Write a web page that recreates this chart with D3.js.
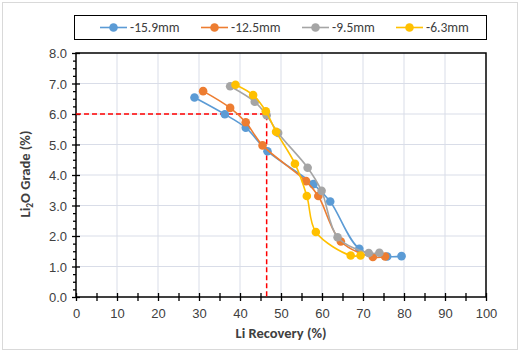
<!DOCTYPE html>
<html>
<head>
<meta charset="utf-8">
<script src="https://cdn.jsdelivr.net/npm/d3@7"></script>
<style>
  body { margin: 0; background: #fff; }
  svg { font-family: Carlito, "Liberation Sans", Arial, sans-serif; }
</style>
</head>
<body>
<svg width="521" height="353"></svg>
<script>
// series: [recovery %, grade %]
const seriesNames = ["-15.9mm", "-12.5mm", "-9.5mm", "-6.3mm"];
const seriesColors = ["#5B9BD5", "#ED7D31", "#A5A5A5", "#FFC000"];

const s159 = [[28.9, 6.54], [36.3, 5.99], [41.4, 5.55], [46.7, 4.78], [57.9, 3.70],
              [62.0, 3.13], [69.1, 1.58], [75.9, 1.33], [79.4, 1.34]];
const s125 = [[31.0, 6.75], [37.6, 6.20], [41.4, 5.73], [45.5, 4.97], [56.1, 3.80],
              [59.1, 3.31], [64.6, 1.82], [72.4, 1.31], [75.4, 1.33]];
const s95  = [[37.6, 6.91], [43.6, 6.40], [46.5, 5.96], [49.3, 5.38], [56.5, 4.24],
              [59.9, 3.48], [63.8, 1.96], [71.4, 1.44], [74.0, 1.45]];
const s63  = [[38.9, 6.96], [43.2, 6.62], [46.3, 6.09], [48.8, 5.42], [53.4, 4.37],
              [56.3, 3.31], [58.5, 2.13], [67.0, 1.36], [69.4, 1.36]];
const allSeries = [s159, s125, s95, s63];

const targetGrade = 6.0;
const targetRecovery = 46.5;

const xTicks = [0, 10, 20, 30, 40, 50, 60, 70, 80, 90, 100];
const yTicks = [0, 1, 2, 3, 4, 5, 6, 7, 8];

const svg = d3.select("svg");

// chart frame
svg.append("rect")
    .attr("x", 2.5).attr("y", 2.5).attr("width", 515).attr("height", 347)
    .attr("fill", "#fff").attr("stroke", "#d9d9d9");

const x = d3.scaleLinear().domain([0, 100]).range([76, 486]);
const y = d3.scaleLinear().domain([0, 8]).range([297, 53]);

// gridlines
svg.append("g").selectAll("line").data(xTicks.slice(1, -1)).enter().append("line")
    .attr("x1", d => x(d)).attr("x2", d => x(d))
    .attr("y1", y(0)).attr("y2", y(8))
    .attr("stroke", "#d9dde8").attr("stroke-width", 1);
svg.append("g").selectAll("line").data(yTicks.slice(1, -1)).enter().append("line")
    .attr("x1", x(0)).attr("x2", x(100))
    .attr("y1", d => y(d)).attr("y2", d => y(d))
    .attr("stroke", "#d9dde8").attr("stroke-width", 1);

// plot border
svg.append("rect")
    .attr("x", x(0)).attr("y", y(8))
    .attr("width", x(100) - x(0)).attr("height", y(0) - y(8))
    .attr("fill", "none").attr("stroke", "#000").attr("stroke-width", 1.5);

// axes (cross ticks like Excel)
const xAxis = svg.append("g").attr("transform", `translate(0,${y(0)})`);
xAxis.call(d3.axisBottom(x).tickValues(d3.range(0, 101, 5)).tickSize(0).tickFormat(""))
    .call(g => g.select(".domain").remove());
xAxis.selectAll(".tick line")
    .attr("y1", -4).attr("y2", 4).attr("stroke", "#000").attr("stroke-width", 1.3);
xAxis.selectAll(".tick").filter(d => d % 10 === 0).append("text")
    .attr("y", 21).attr("fill", "#404040").attr("font-size", 13)
    .attr("text-anchor", "middle").text(d => d);

const yAxis = svg.append("g").attr("transform", `translate(${x(0)},0)`);
yAxis.call(d3.axisLeft(y).tickValues(d3.range(0, 8.01, 0.25)).tickSize(0).tickFormat(""))
    .call(g => g.select(".domain").remove());
yAxis.selectAll(".tick line")
    .attr("x1", d => Number.isInteger(d) ? -4 : -3).attr("x2", d => Number.isInteger(d) ? 4 : 0)
    .attr("stroke", "#000").attr("stroke-width", 1.3);
yAxis.selectAll(".tick").filter(d => Number.isInteger(d)).append("text")
    .attr("x", -9).attr("dy", "0.35em").attr("fill", "#404040").attr("font-size", 13)
    .attr("text-anchor", "end").text(d => d3.format(".1f")(d));

// target lines
svg.append("path")
    .attr("d", `M${x(0)},${y(targetGrade)}H${x(targetRecovery)}V${y(0)}`)
    .attr("fill", "none").attr("stroke", "#FF0000")
    .attr("stroke-width", 1.5).attr("stroke-dasharray", "5,3");

// series
const line = d3.line()
    .x(d => x(d[0])).y(d => y(d[1]))
    .curve(d3.curveCatmullRom.alpha(0.5));

allSeries.forEach((data, i) => {
    const g = svg.append("g");
    g.append("path").attr("d", line(data))
        .attr("fill", "none").attr("stroke", seriesColors[i]).attr("stroke-width", 1.6);
    g.selectAll("circle").data(data).enter().append("circle")
        .attr("cx", d => x(d[0])).attr("cy", d => y(d[1])).attr("r", 4.3)
        .attr("fill", seriesColors[i]);
});

// axis titles
svg.append("text")
    .attr("x", 281).attr("y", 338).attr("text-anchor", "middle")
    .attr("font-size", 14.5).attr("font-weight", "bold").attr("fill", "#404040")
    .text("Li Recovery (%)");

const yt = svg.append("text")
    .attr("transform", "translate(30,174) rotate(-90)")
    .attr("text-anchor", "middle")
    .attr("font-size", 14.5).attr("font-weight", "bold").attr("fill", "#404040");
yt.append("tspan").text("Li");
yt.append("tspan").attr("font-size", 9.5).attr("dy", 3).text("2");
yt.append("tspan").attr("dy", -3).text("O Grade (%)");

// legend
svg.append("rect")
    .attr("x", 74.5).attr("y", 15.5).attr("width", 412).attr("height", 24)
    .attr("fill", "#fff").attr("stroke", "#000").attr("stroke-width", 1);
const legendX = [100, 201, 302, 396];
seriesNames.forEach((name, i) => {
    const lg = svg.append("g").attr("transform", `translate(${legendX[i]},27.5)`);
    lg.append("line").attr("x1", 0).attr("x2", 27)
        .attr("stroke", seriesColors[i]).attr("stroke-width", 1.6);
    lg.append("circle").attr("cx", 13.5).attr("r", 4.3).attr("fill", seriesColors[i]);
    lg.append("text").attr("x", 30).attr("dy", "0.35em")
        .attr("font-size", 13.5).attr("fill", "#404040").text(name);
});
</script>
</body>
</html>
